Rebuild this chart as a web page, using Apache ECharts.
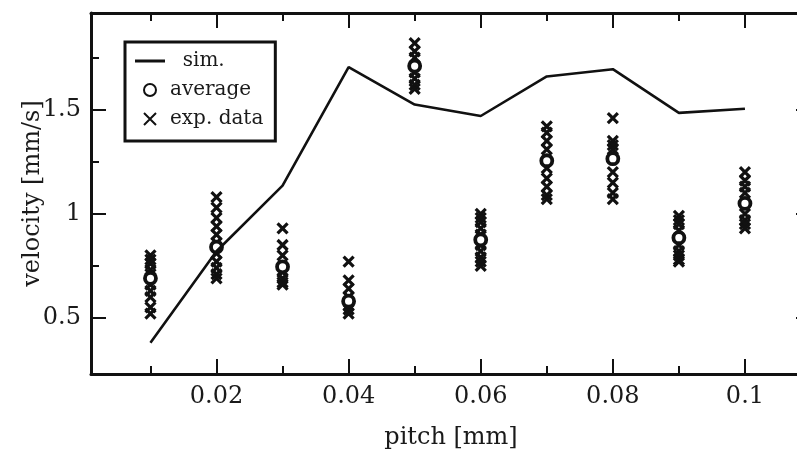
<!DOCTYPE html>
<html>
<head>
<meta charset="utf-8">
<script src="https://cdn.jsdelivr.net/npm/echarts@6/dist/echarts.min.js"></script>
<style>
  html, body { margin: 0; padding: 0; background: #fff; }
  #main { width: 797px; height: 449px; }
</style>
</head>
<body>
<div id="main"></div>
<script>
// pitch [mm]
var pitches = [0.01, 0.02, 0.03, 0.04, 0.05, 0.06, 0.07, 0.08, 0.09, 0.1]
// simulation curve
var simValues = [0.38, 0.82, 1.135, 1.705, 1.525, 1.47, 1.66, 1.695, 1.485, 1.505]
// average of experiments
var avgValues = [0.69, 0.84, 0.745, 0.58, 1.71, 0.875, 1.255, 1.265, 0.885, 1.05]
// single measurements, one list per pitch
var expValues = [
  [0.80, 0.78, 0.76, 0.73, 0.71, 0.66, 0.63, 0.60, 0.55, 0.52],
  [1.08, 1.03, 0.98, 0.94, 0.90, 0.86, 0.81, 0.77, 0.74, 0.71, 0.69],
  [0.93, 0.85, 0.80, 0.72, 0.69, 0.67, 0.66],
  [0.77, 0.68, 0.64, 0.60, 0.56, 0.54, 0.52],
  [1.82, 1.78, 1.75, 1.68, 1.65, 1.62, 1.60],
  [1.00, 0.98, 0.96, 0.93, 0.90, 0.85, 0.82, 0.79, 0.77, 0.75],
  [1.42, 1.39, 1.35, 1.31, 1.22, 1.17, 1.13, 1.09, 1.07],
  [1.46, 1.35, 1.33, 1.31, 1.20, 1.15, 1.10, 1.07],
  [0.99, 0.97, 0.95, 0.92, 0.85, 0.82, 0.80, 0.78, 0.77],
  [1.20, 1.16, 1.13, 1.10, 1.00, 0.97, 0.95, 0.93]
]
var xMajor = [0.02, 0.04, 0.06, 0.08, 0.1]
var xMinor = [0.01, 0.03, 0.05, 0.07, 0.09]
var yMajor = [0.5, 1, 1.5]
var yMinor = [0.75, 1.25, 1.75]

var ink = '#111'
var font = 'DejaVu Serif'
var crossPath = 'path://M0,0L10,10M10,0L0,10'

var xRange = { min: 0.001, max: 0.11 }
var yRange = { min: 0.23, max: 1.965 }

function xAxisDef (pos, ticks, len, showLine, showLabel) {
  return {
    type: 'value',
    position: pos,
    min: xRange.min,
    max: xRange.max,
    splitLine: { show: false },
    axisLine: { show: showLine, onZero: false, lineStyle: { color: ink, width: 3 } },
    axisTick: { show: true, inside: true, length: len, customValues: ticks, lineStyle: { color: ink, width: 2 } },
    axisLabel: {
      show: showLabel,
      customValues: ticks,
      margin: 11,
      color: '#1a1a1a',
      fontFamily: font,
      fontSize: 24
    }
  }
}
function yAxisDef (pos, ticks, len, showLine, showLabel) {
  return {
    type: 'value',
    position: pos,
    min: yRange.min,
    max: yRange.max,
    splitLine: { show: false },
    axisLine: { show: showLine, onZero: false, lineStyle: { color: ink, width: 3 } },
    axisTick: { show: true, inside: true, length: len, customValues: ticks, lineStyle: { color: ink, width: 2 } },
    axisLabel: {
      show: showLabel,
      customValues: ticks,
      margin: 10,
      color: '#1a1a1a',
      fontFamily: font,
      fontSize: 24
    }
  }
}

var xBottom = xAxisDef('bottom', xMajor, 15, true, true)
xBottom.name = 'pitch [mm]'
xBottom.nameLocation = 'middle'
xBottom.nameGap = 52
xBottom.nameMoveOverlap = false
xBottom.nameTextStyle = { color: '#1a1a1a', fontFamily: font, fontSize: 24 }

var yLeft = yAxisDef('left', yMajor, 15, true, true)
yLeft.name = 'velocity [mm/s]'
yLeft.nameLocation = 'middle'
yLeft.nameGap = 46
yLeft.nameMoveOverlap = false
yLeft.nameTextStyle = { color: '#1a1a1a', fontFamily: font, fontSize: 24 }

var expData = []
pitches.forEach(function (p, i) {
  expValues[i].forEach(function (v) { expData.push([p, v]) })
})

var chart = echarts.init(document.getElementById('main'))
chart.setOption({
  animation: false,
  backgroundColor: '#fff',
  grid: { left: 91, top: 13, width: 720, height: 361, outerBoundsMode: 'none', containLabel: false },
  xAxis: [
    xBottom,
    xAxisDef('bottom', xMinor, 8, false, false),
    xAxisDef('top', xMajor, 15, true, false),
    xAxisDef('top', xMinor, 8, false, false)
  ],
  yAxis: [
    yLeft,
    yAxisDef('left', yMinor, 8, false, false),
    yAxisDef('right', yMajor, 15, true, false),
    yAxisDef('right', yMinor, 8, false, false)
  ],
  legend: {
    orient: 'vertical',
    left: 125,
    top: 42,
    padding: [9, 12, 12, 10],
    itemGap: 9,
    itemWidth: 30,
    itemHeight: 12,
    borderColor: ink,
    borderWidth: 3,
    borderRadius: 0,
    backgroundColor: '#fff',
    textStyle: { color: '#1a1a1a', fontFamily: font, fontSize: 20 },
    formatter: function (name) { return name === 'sim.' ? '  ' + name : name },
    data: [
      { name: 'sim.', icon: 'path://M0,0h30v3h-30z' },
      'average',
      'exp. data'
    ]
  },
  series: [
    {
      name: 'exp. data',
      type: 'scatter',
      symbol: crossPath,
      symbolSize: 10,
      itemStyle: { color: 'rgba(0,0,0,0)', borderColor: ink, borderWidth: 3.2, opacity: 1 },
      data: expData,
      z: 2
    },
    {
      name: 'average',
      type: 'scatter',
      symbol: 'circle',
      symbolSize: 11,
      itemStyle: { color: '#fff', borderColor: ink, borderWidth: 3.8, opacity: 1 },
      data: pitches.map(function (p, i) { return [p, avgValues[i]] }),
      z: 3
    },
    {
      name: 'sim.',
      type: 'line',
      symbol: 'none',
      lineStyle: { color: ink, width: 2.6 },
      itemStyle: { color: ink },
      data: pitches.map(function (p, i) { return [p, simValues[i]] }),
      z: 4
    }
  ]
})
</script>
</body>
</html>
